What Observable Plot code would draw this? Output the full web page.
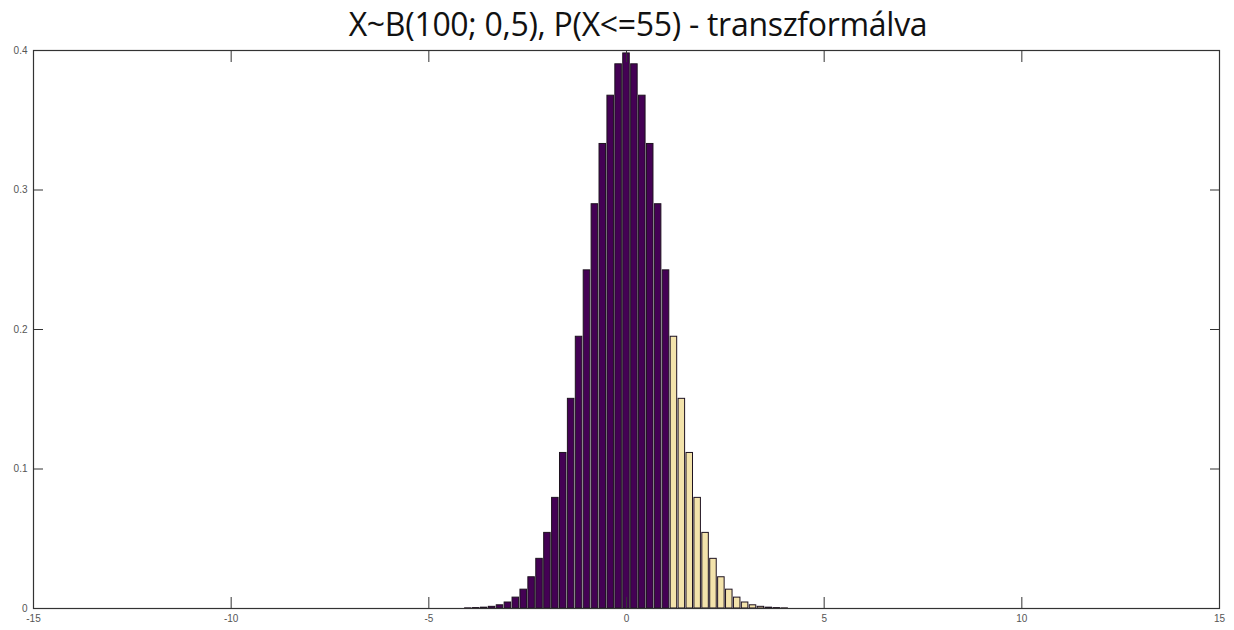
<!DOCTYPE html>
<html>
<head>
<meta charset="utf-8">
<script src="https://cdn.jsdelivr.net/npm/d3@7"></script>
<script src="https://cdn.jsdelivr.net/npm/@observablehq/plot@0.6"></script>
<style>
  html, body { margin: 0; padding: 0; background: #fff; }
  #title { height: 45px; line-height: 48px; text-align: center; font-family: "Open Sans", sans-serif; font-size: 32px; color: #111; width: 1234px; padding-left: 42px; box-sizing: border-box; letter-spacing: -0.3px; }
</style>
</head>
<body>
<div id="title">X~B(100; 0,5), P(X&lt;=55) - transzformálva</div>
<div id="chart"></div>
<script>
// Standardised positions z = (k - 50) / 5, k = 0..100
const zValues = [
  -10, -9.8, -9.6, -9.4, -9.2, -9, -8.8, -8.6, -8.4, -8.2,
  -8, -7.8, -7.6, -7.4, -7.2, -7, -6.8, -6.6, -6.4, -6.2,
  -6, -5.8, -5.6, -5.4, -5.2, -5, -4.8, -4.6, -4.4, -4.2,
  -4, -3.8, -3.6, -3.4, -3.2, -3, -2.8, -2.6, -2.4, -2.2,
  -2, -1.8, -1.6, -1.4, -1.2, -1, -0.8, -0.6, -0.4, -0.2,
  0, 0.2, 0.4, 0.6, 0.8, 1, 1.2, 1.4, 1.6, 1.8,
  2, 2.2, 2.4, 2.6, 2.8, 3, 3.2, 3.4, 3.6, 3.8,
  4, 4.2, 4.4, 4.6, 4.8, 5, 5.2, 5.4, 5.6, 5.8,
  6, 6.2, 6.4, 6.6, 6.8, 7, 7.2, 7.4, 7.6, 7.8,
  8, 8.2, 8.4, 8.6, 8.8, 9, 9.2, 9.4, 9.6, 9.8, 10
];
// Bar heights (density)
const densities = [
  0, 0, 0, 0, 0, 0, 0, 0, 0, 0,
  0, 0, 0, 0, 0, 0, 0, 0, 0, 0,
  0, 0, 0, 0, 0, 0, 0, 0, 0, 0,
  0.0001, 0.0003, 0.0006, 0.0012, 0.0023, 0.0043, 0.0078, 0.0135, 0.0224, 0.0356,
  0.0542, 0.0793, 0.1115, 0.1503, 0.1948, 0.2424, 0.2898, 0.3330, 0.3676, 0.3901,
  0.3979,
  0.3901, 0.3676, 0.3330, 0.2898, 0.2424, 0.1948, 0.1503, 0.1115, 0.0793, 0.0542,
  0.0356, 0.0224, 0.0135, 0.0078, 0.0043, 0.0023, 0.0012, 0.0006, 0.0003, 0.0001,
  0, 0, 0, 0, 0, 0, 0, 0, 0, 0,
  0, 0, 0, 0, 0, 0, 0, 0, 0, 0,
  0, 0, 0, 0, 0, 0, 0, 0, 0, 0
];
const cutoff = 1; // z for X <= 55
const barWidth = 0.2;
const xTicks = [-15, -10, -5, 0, 5, 10, 15];
const yTicks = [0, 0.1, 0.2, 0.3, 0.4];
const colorIn = "#440154";
const colorOut = "#f3e3ab";

const data = zValues.map((z, i) => ({
  x1: z - barWidth / 2,
  x2: z + barWidth / 2,
  y: densities[i],
  inRegion: z <= cutoff + 1e-9
}));
const blank = () => "";

const chart = Plot.plot({
  width: 1234,
  height: 585,
  marginLeft: 33,
  marginRight: 15,
  marginTop: 5,
  marginBottom: 22,
  style: { fontFamily: "'Liberation Sans', Arial, sans-serif", fontSize: "10px", color: "#555", background: "#fff" },
  x: { domain: [-15, 15] },
  y: { domain: [0, 0.4] },
  marks: [
    Plot.rectY(data, {
      x1: "x1", x2: "x2", y: "y",
      fill: d => d.inRegion ? colorIn : colorOut,
      stroke: "#1e1220",
      strokeWidth: 1,
      insetLeft: 0.7,
      insetRight: 0.7
    }),
    Plot.frame({ stroke: "#333", strokeWidth: 1.2 }),
    Plot.axisX({ ticks: xTicks, tickSize: -11, tickFormat: blank, label: null, stroke: "#333" }),
    Plot.axisX({ ticks: xTicks, anchor: "top", tickSize: -11, tickFormat: blank, label: null, stroke: "#333" }),
    Plot.axisY({ ticks: yTicks, tickSize: -10, tickFormat: blank, label: null, stroke: "#333" }),
    Plot.axisY({ ticks: yTicks, anchor: "right", tickSize: -10, tickFormat: blank, label: null, stroke: "#333" }),
    Plot.axisX({ ticks: xTicks, tickSize: 0, tickPadding: 6, label: null, tickFormat: d => String(d), fill: "#555" }),
    Plot.axisY({ ticks: yTicks, tickSize: 0, tickPadding: 6, label: null, tickFormat: d => String(d), fill: "#555" })
  ]
});
document.getElementById("chart").appendChild(chart);
</script>
</body>
</html>
